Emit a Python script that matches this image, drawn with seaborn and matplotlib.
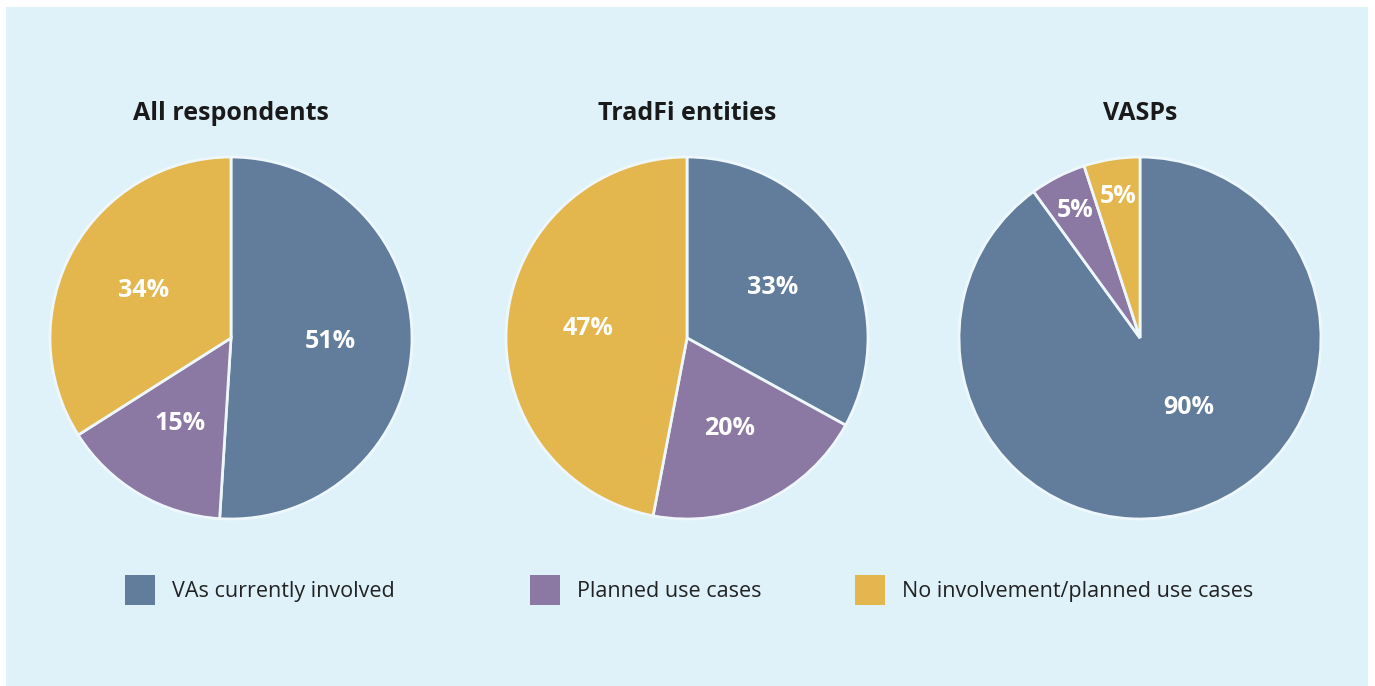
import matplotlib
matplotlib.use("Agg")
import matplotlib.pyplot as plt
import seaborn as sns
import numpy as np
from matplotlib.patches import Rectangle

sns.set_theme(style="white")
plt.rcParams['font.family'] = ['Open Sans', 'DejaVu Sans']

titles = ["All respondents", "TradFi entities", "VASPs"]
categories = ["VAs currently involved", "Planned use cases", "No involvement/planned use cases"]
all_resp = [51, 15, 34]
tradfi = [33, 20, 47]
vasps = [90, 5, 5]
series = [all_resp, tradfi, vasps]
colors = ["#617d9b", "#8b78a3", "#e4b64e"]
bg = "#dff2fa"

fig = plt.figure(figsize=(13.75, 6.86), dpi=100)
fig.patch.set_facecolor("white")
fig.patches.append(Rectangle((6/1375, 0), (1368-6)/1375, (686-7)/686,
                             transform=fig.transFigure, facecolor=bg,
                             edgecolor="none", zorder=-10))

centers_x = [231, 687, 1140]
r_px = 181
cy = 338
W, H = 1375, 686
for i, (vals, title) in enumerate(zip(series, titles)):
    cx = centers_x[i]
    ax = fig.add_axes([(cx - r_px) / W, (H - cy - r_px) / H, 2 * r_px / W, 2 * r_px / H])
    ax.set_facecolor("none")
    wedges, texts, autotexts = ax.pie(
        vals, colors=colors, startangle=90, counterclock=False,
        autopct=lambda p: f"{p:.0f}%", pctdistance=0.55,
        wedgeprops=dict(edgecolor="#eef8fc", linewidth=2),
        textprops=dict(color="white", fontsize=18, fontweight="bold"))
    for w, t, v in zip(wedges, autotexts, vals):
        if v < 10:
            ang = np.deg2rad((w.theta1 + w.theta2) / 2)
            t.set_position((0.79 * np.cos(ang), 0.79 * np.sin(ang)))
        elif i == 2:
            ang = np.deg2rad((w.theta1 + w.theta2) / 2 + 17)
            t.set_position((0.47 * np.cos(ang), 0.47 * np.sin(ang)))
    ax.set_xlim(-1, 1)
    ax.set_ylim(-1, 1)
    ax.set_aspect("equal")
    ax.set_title(title, fontsize=18, fontweight="bold", color="#1a1a1a", pad=27)

legend_x = [125, 530, 855]
for c, lab, lx in zip(colors, categories, legend_x):
    h = Rectangle((0, 0), 1, 1, facecolor=c, edgecolor="none")
    leg = fig.legend([h], [lab], loc="center left", bbox_to_anchor=(lx / W, (H - 590) / H),
                     frameon=False, fontsize=15.5, handlelength=1.4, handleheight=1.7,
                     handletextpad=0.8, borderpad=0, borderaxespad=0)
    for t in leg.get_texts():
        t.set_color("#222222")

fig.savefig("out.png", dpi=100, facecolor=fig.get_facecolor())
